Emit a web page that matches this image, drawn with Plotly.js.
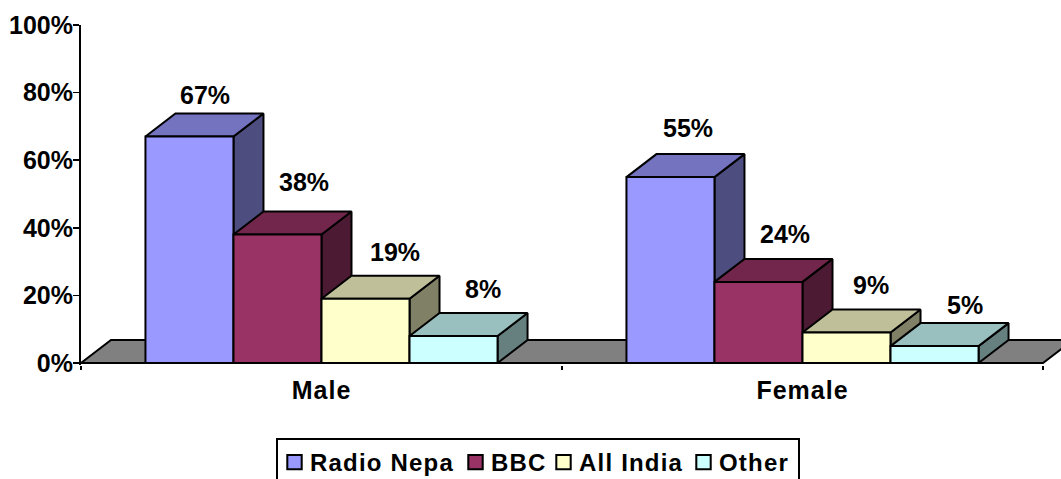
<!DOCTYPE html>
<html>
<head>
<meta charset="utf-8">
<script src="https://cdn.plot.ly/plotly-3.0.1.min.js"></script>
<style>
html,body{margin:0;padding:0;background:#fff;overflow:hidden}
#chart{width:1061px;height:479px}
.xtick text{letter-spacing:1px}
.legendtext{letter-spacing:1.2px}
</style>
</head>
<body>
<div id="chart"></div>
<script>
// Data
const categories = ['Male', 'Female'];
const categoryCentres = [0.5, 1.5];
const seriesNames = ['Radio Nepa', 'BBC', 'All India', 'Other'];
const radioNepa = [67, 55];
const bbc = [38, 24];
const allIndia = [19, 9];
const other = [8, 5];
const yTicks = [0, 20, 40, 60, 80, 100];

// Style
const frontColors = ['#9999FF', '#993366', '#FFFFCC', '#CCFFFF'];
const topColors = ['#7373BF', '#72264C', '#BFBF99', '#99BFBF'];
const sideColors = ['#4D4D80', '#4D1A33', '#808066', '#668080'];
const floorColor = '#808080';
const FONT = '"Liberation Sans", Arial, sans-serif';

// Geometry in axis units
const plotWidthPx = 980, catPx = 481, unitPx = 3.38;
const xMax = plotWidthPx / catPx;
const yMin = -2 / unitPx;
const bargap = 0.268;
const barW = (1 - bargap) / 4;
const dx = 30 / catPx, dy = 23 / unitPx;
// label nudges from bar's back top edge, in px: [series][category]
const labelShiftX = [[16, 18], [27, 27], [29, 24], [29, 30]];
const labelShiftY = [[19, 26], [30, 25], [24, 25], [24, 18]];
// legend layout, px from the box's left edge
const legendEntryX = [-1.5, 179.5, 267.5, 407.5];
const legendTextX = 35.5;
const legendBoxWidth = 522;

const allSeries = [radioNepa, bbc, allIndia, other];
const traces = [];

// floor
traces.push({
  type: 'scatter', mode: 'lines', xaxis: 'x', yaxis: 'y', showlegend: false, hoverinfo: 'skip',
  x: [0, dx, 2 + dx, 2, 0], y: [0, dy, dy, 0, 0],
  fill: 'toself', fillcolor: floorColor, line: {color: '#000', width: 2}
});

// depth faces, painted left to right so each overlaps the previous side
allSeries.forEach((vals, s) => {
  const sideX = [], sideY = [], topX = [], topY = [];
  vals.forEach((v, c) => {
    const l = categoryCentres[c] + (s - 2) * barW, r = l + barW;
    sideX.push(r, r + dx, r + dx, r, r, null);
    sideY.push(0, dy, v + dy, v, 0, null);
    topX.push(l, l + dx, r + dx, r, l, null);
    topY.push(v, v + dy, v + dy, v, v, null);
  });
  [[sideX, sideY, sideColors[s]], [topX, topY, topColors[s]]].forEach(([x, y, col]) => {
    traces.push({
      type: 'scatter', mode: 'lines', xaxis: 'x', yaxis: 'y', showlegend: false, hoverinfo: 'skip',
      x, y, fill: 'toself', fillcolor: col, line: {color: '#000', width: 2}
    });
  });
});

// front faces
allSeries.forEach((vals, s) => {
  traces.push({
    type: 'bar', name: seriesNames[s], xaxis: 'x2', yaxis: 'y2',
    x: categoryCentres, y: vals,
    marker: {color: frontColors[s], line: {color: '#000', width: 2}}
  });
});

// baseline, ends at the last category boundary
traces.push({
  type: 'scatter', mode: 'lines', xaxis: 'x2', yaxis: 'y2', showlegend: false, hoverinfo: 'skip',
  x: [0, 2], y: [0, 0], line: {color: '#000', width: 2}
});

const annotations = [];
allSeries.forEach((vals, s) => {
  vals.forEach((v, c) => {
    annotations.push({
      xref: 'x2', yref: 'y2', x: categoryCentres[c] + (s - 1.5) * barW, y: v + dy,
      text: v + '%', showarrow: false, xanchor: 'center', yanchor: 'middle',
      xshift: labelShiftX[s][c], yshift: labelShiftY[s][c],
      font: {family: FONT, size: 25, color: '#000', weight: 700}
    });
  });
});

const tickFont = {family: FONT, size: 25, color: '#000', weight: 700};
const xCommon = {range: [0, xMax], fixedrange: true, showgrid: false, zeroline: false};
const yCommon = {range: [yMin, 100], fixedrange: true, showgrid: false, zeroline: false};

const layout = {
  width: 1061, height: 479, autosize: false,
  margin: {l: 81, r: 0, t: 25, b: 114, pad: 0},
  paper_bgcolor: '#fff', plot_bgcolor: '#fff',
  font: {family: FONT, color: '#000'},
  barmode: 'group', bargap: bargap, bargroupgap: 0,
  showlegend: true,
  legend: {
    orientation: 'h', x: 276 / 1061, xanchor: 'left', xref: 'container',
    y: (479 - 438) / 479, yref: 'container', yanchor: 'top',
    bgcolor: '#fff', bordercolor: '#000', borderwidth: 2,
    font: {family: FONT, size: 24, color: '#000', weight: 700},
    traceorder: 'normal', itemclick: false, itemdoubleclick: false
  },
  xaxis: Object.assign({}, xCommon, {
    tickmode: 'array', tickvals: categoryCentres, ticktext: categories,
    ticks: '', tickfont: tickFont, showline: false, ticklabelstandoff: 8,
    minor: {tickmode: 'array', tickvals: [0, 1, 2], ticks: 'outside', ticklen: 4, tickwidth: 1.5, tickcolor: '#000', showgrid: false}
  }),
  yaxis: Object.assign({}, yCommon, {
    tickmode: 'array', tickvals: yTicks, ticktext: yTicks.map(t => t + '%'),
    ticks: 'outside', ticklen: 6, tickwidth: 1.5, tickcolor: '#000', tickfont: tickFont,
    ticklabelstandoff: -5, showline: true, linecolor: '#000', linewidth: 2
  }),
  xaxis2: Object.assign({}, xCommon, {overlaying: 'x', visible: false}),
  yaxis2: Object.assign({}, yCommon, {overlaying: 'y', visible: false}),
  annotations
};

Plotly.newPlot('chart', traces, layout, {staticPlot: true, displayModeBar: false}).then(() => {
  // tighten the legend's spacing to the reference's compact layout
  document.querySelectorAll('.legend .traces').forEach((g, i) => {
    const t = g.getAttribute('transform') || '';
    const m = t.match(/translate\(\s*[-\d.]+\s*,\s*([-\d.]+)\s*\)/);
    g.setAttribute('transform', 'translate(' + legendEntryX[i] + ',' + (m ? m[1] : 0) + ')');
    const text = g.querySelector('.legendtext');
    text.setAttribute('x', legendTextX);
    text.querySelectorAll('tspan').forEach(ts => { if (ts.hasAttribute('x')) ts.setAttribute('x', legendTextX); });
    g.querySelectorAll('.legendpoints path').forEach(p => {
      const pt = p.getAttribute('transform') || '';
      p.setAttribute('transform', pt + ' scale(1.2)');
      p.style.strokeWidth = '1.7px';
    });
  });
  const bg = document.querySelector('.legend .bg');
  if (bg) bg.setAttribute('width', legendBoxWidth);
});
</script>
</body>
</html>
